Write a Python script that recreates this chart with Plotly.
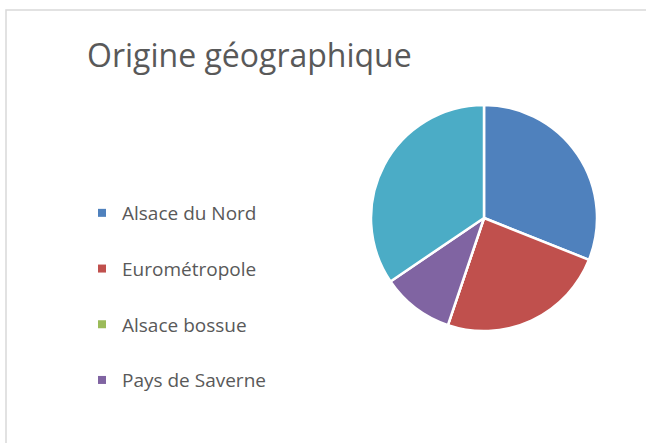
import plotly.graph_objects as go

regions = ["Alsace du Nord", "Eurométropole", "Alsace bossue", "Pays de Saverne", "Autres"]
counts = [9, 7, 0, 3, 10]
colors = ["#4F81BD", "#C0504D", "#9BBB59", "#8064A2", "#4BACC6"]
legend_regions = regions[:4]

W, H = 646, 443

fig = go.Figure()

fig.add_trace(go.Pie(
    labels=regions, values=counts, sort=False, direction="clockwise",
    marker=dict(colors=colors, line=dict(color="white", width=2.5)),
    textinfo="none", hoverinfo="label+value", showlegend=False,
    domain=dict(x=[371 / W, 597 / W], y=[1 - 331 / H, 1 - 105 / H]),
))

# legend entries (the fifth slice has no legend item in the original)
for i, name in enumerate(legend_regions):
    fig.add_trace(go.Scatter(
        x=[None], y=[None], mode="markers", name=name, legendgroup=name,
        marker=dict(symbol="square", size=8, color=colors[i]),
    ))

fig.add_shape(type="rect", xref="paper", yref="paper",
              x0=6 / W, x1=1.05, y0=-0.05, y1=1 - 10 / H,
              line=dict(color="#d9d9d9", width=1.5))

fig.update_layout(
    width=W, height=H,
    margin=dict(l=0, r=0, t=0, b=0),
    paper_bgcolor="white", plot_bgcolor="white",
    font=dict(family="Open Sans", color="#595959"),
    title=dict(text="Origine géographique", x=87 / W, xanchor="left",
               y=1 - 56 / H, yanchor="middle",
               font=dict(size=32, color="#595959")),
    xaxis=dict(visible=False), yaxis=dict(visible=False),
    legend=dict(x=82 / W, xanchor="left", y=1 - 194 / H, yanchor="top",
                font=dict(size=19, color="#595959"),
                traceorder="grouped", tracegroupgap=28,
                bgcolor="rgba(0,0,0,0)"),
)

fig.write_html("out.html", config={"displayModeBar": False},
               post_script="document.body.style.margin='0';")
